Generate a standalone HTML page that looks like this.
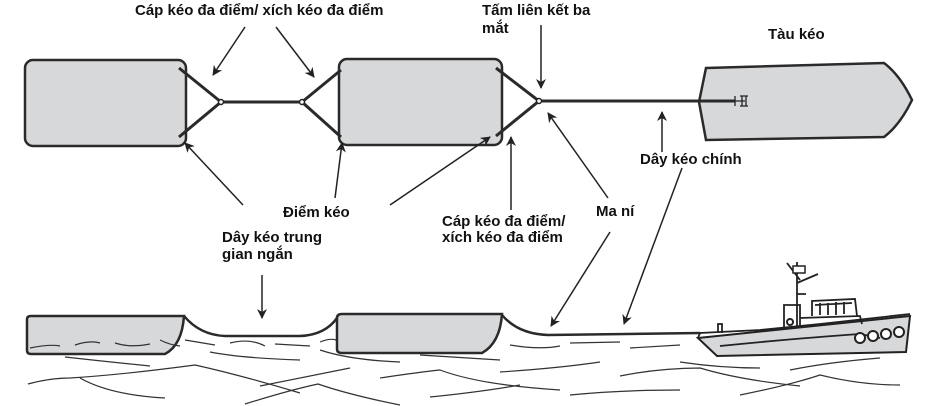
<!DOCTYPE html>
<html><head><meta charset="utf-8"><style>
html,body{margin:0;padding:0;background:#fff;}
svg{display:block;}
text{font-family:"Liberation Sans",sans-serif;font-weight:bold;font-size:15px;fill:#111;}
</style></head><body>
<svg width="940" height="406" viewBox="0 0 940 406" xmlns="http://www.w3.org/2000/svg">
<defs>
<marker id="a" markerWidth="10" markerHeight="10" refX="9" refY="5" orient="auto" markerUnits="userSpaceOnUse">
<path d="M0,0 L10,5 L0,10 L3,5 z" fill="#222"/></marker>
</defs>
<g stroke="#2a2a2a" fill="#d7d8da" stroke-width="2.5">
<rect x="25" y="60" width="161" height="86" rx="8"/>
<rect x="339" y="59" width="163" height="86" rx="8"/>
<path d="M706,68 L884,63 Q900,75 912,100 Q900,125 884,137 L706,140 L699,102 Z"/>
</g>
<g stroke="#2a2a2a" stroke-width="3" fill="none">
<path d="M179,68 L221,102 L179,137"/>
<path d="M221,102 L302,102"/>
<path d="M341,70 L302,102 L341,137"/>
<path d="M496,68 L539,101 L496,136"/>
<path d="M539,101 L735,101"/>
</g>
<path d="M735,96 L735,106 M735,101 L745,101 M740,96 L748,96 M740,106 L748,106 M742,96 L742,106 M746,96 L746,106" stroke="#222" stroke-width="1.3"/>
<g fill="#fff" stroke="#222" stroke-width="1.5">
<circle cx="221" cy="102" r="2.5"/><circle cx="302" cy="102" r="2.5"/><circle cx="539" cy="101" r="2.5"/>
</g>
<g stroke="#222" stroke-width="1.5" marker-end="url(#a)">
<line x1="245" y1="27" x2="213" y2="75"/>
<line x1="276" y1="27" x2="314" y2="77"/>
<line x1="541" y1="25" x2="541" y2="88"/>
<line x1="662" y1="152" x2="662" y2="112"/>
<line x1="243" y1="205" x2="185" y2="143"/>
<line x1="335" y1="198" x2="342" y2="143"/>
<line x1="390" y1="205" x2="490" y2="137"/>
<line x1="511" y1="210" x2="511" y2="137"/>
<line x1="608" y1="198" x2="548" y2="113"/>
<line x1="262" y1="275" x2="262" y2="318"/>
<line x1="610" y1="232" x2="551" y2="326"/>
<line x1="682" y1="168" x2="624" y2="324"/>
</g>
<text x="135" y="15">Cáp kéo đa điểm/ xích kéo đa điểm</text>
<text x="482" y="15">Tấm liên kết ba</text>
<text x="482" y="33">mắt</text>
<text x="768" y="39">Tàu kéo</text>
<text x="640" y="164">Dây kéo chính</text>
<text x="283" y="217">Điểm kéo</text>
<text x="442" y="226">Cáp kéo đa điểm/</text>
<text x="442" y="242">xích kéo đa điểm</text>
<text x="596" y="216">Ma ní</text>
<text x="222" y="242">Dây kéo trung</text>
<text x="222" y="259">gian ngắn</text>
<!-- bottom -->
<g stroke="#2a2a2a" stroke-width="2.5" fill="#d7d8da">
<path d="M27,319 Q27,316 31,316 L184,316 Q182,345 165,354 L31,354 Q27,354 27,350 Z"/>
<path d="M337,318 Q337,314 342,314 L502,314 Q500,343 482,353 L342,353 Q337,353 337,349 Z"/>
</g>
<g stroke="#2a2a2a" stroke-width="2.5" fill="none">
<path d="M184,316 Q200,335 225,336 L300,336 Q325,335 337,318"/>
<path d="M502,315 Q518,334 548,335 L700,333"/>
</g>
<g stroke="#333" stroke-width="1.2" fill="none">
<path d="M30,348 Q50,344 60,346 M75,345 Q90,340 100,343 M115,343 Q130,348 150,344 M160,340 Q170,345 180,346"/>
<path d="M185,340 L215,345 M230,343 Q250,338 265,346 M275,344 L310,346 M320,342 Q330,338 336,340"/>
<path d="M65,357 Q110,362 150,366 M210,352 Q240,358 300,360 M320,350 Q350,360 400,362 M420,355 Q470,358 500,360 M510,345 Q540,350 560,346 M570,343 L620,342 M630,348 L680,345"/>
<path d="M28,384 Q50,378 70,378 Q120,375 195,365 Q240,375 300,393 M80,378 Q110,395 165,398"/>
<path d="M245,404 Q290,390 318,384 Q350,395 400,405 M260,386 Q300,378 350,368 M380,378 Q420,372 440,370 Q480,385 560,390"/>
<path d="M430,397 Q480,392 520,385 M500,372 Q560,368 600,362 M570,395 Q620,390 680,390 M620,376 Q660,368 700,368 Q740,380 800,386"/>
<path d="M680,362 Q720,368 760,368 M790,370 Q830,362 880,358 M740,395 Q790,385 820,375 Q860,385 900,385"/>
</g>
<!-- tug -->
<g stroke="#222" stroke-width="2" fill="#d7d8da">
<path d="M698,338 L910,316 L906,352 L717,356 Z"/>
</g>
<g stroke="#222" stroke-width="1.8" fill="none">
<path d="M698,338 L700,333 L760,330 L820,324 L910,314"/>
<path d="M718,333 L718,324 L722,324 L722,333"/>
<path d="M784,328 L784,305 L800,305 L800,326"/>
<path d="M800,318 L860,316 L862,324"/>
<path d="M812,316 L812,301 L855,299 L857,316"/>
<path d="M815,305 L852,303 M820,303 L820,315 M828,303 L828,315 M836,302 L836,315 M844,302 L844,314"/>
<path d="M797,326 L797,262 M787,263 L800,280 M797,294 L806,294 M797,283 L818,274"/>
<path d="M720,346 Q800,338 860,334 L880,338"/>
</g>
<rect x="793" y="266" width="12" height="7" fill="#fff" stroke="#222" stroke-width="1.5"/>
<g fill="#fff" stroke="#222" stroke-width="2">
<circle cx="860" cy="338" r="5"/><circle cx="873" cy="336" r="5"/><circle cx="886" cy="334" r="5"/><circle cx="899" cy="332" r="5"/>
<circle cx="790" cy="322" r="3"/>
</g>
</svg>
</body></html>
